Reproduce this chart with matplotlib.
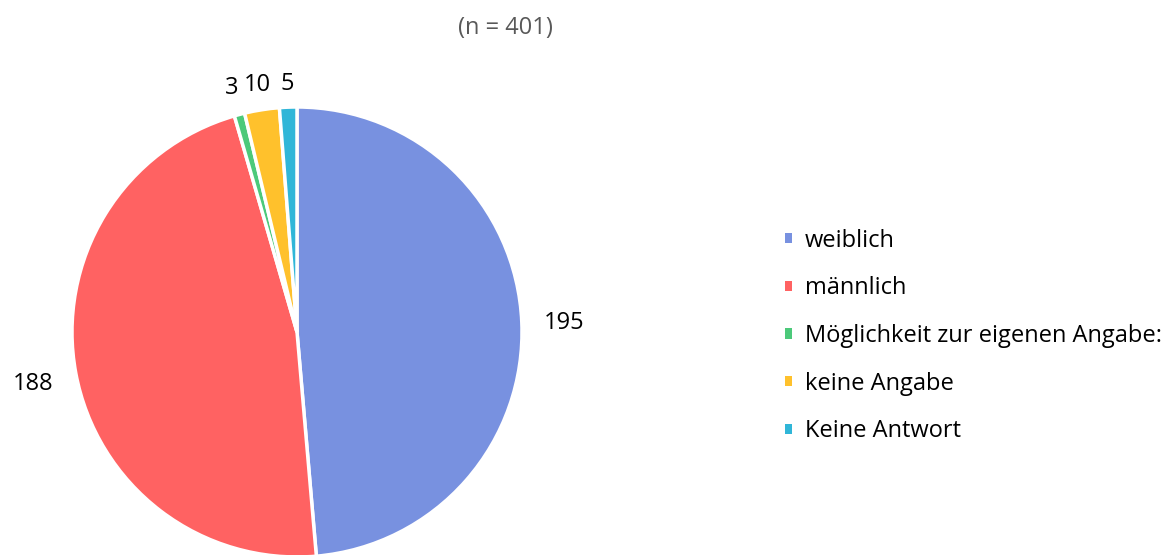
import matplotlib
matplotlib.use("Agg")
import matplotlib.pyplot as plt
import numpy as np
from matplotlib.patches import Patch

categories = ["weiblich", "männlich", "Möglichkeit zur eigenen Angabe:", "keine Angabe", "Keine Antwort"]
values = [195, 188, 3, 10, 5]
colors = ["#7891E0", "#FF6262", "#4CC97A", "#FFC12C", "#30B6D8"]
title = "(n = 401)"

plt.rcParams['font.family'] = ['Open Sans', 'DejaVu Sans']

W, H = 1176, 555
fig = plt.figure(figsize=(W / 100, H / 100), dpi=100)
cx, cy, r = 297, 332, 225
ax = fig.add_axes([(cx - r) / W, (H - cy - r) / H, 2 * r / W, 2 * r / H])
wedges, _ = ax.pie(values, colors=colors, startangle=90, counterclock=False,
                   wedgeprops=dict(edgecolor="white", linewidth=2.5))
ax.set_xlim(-1, 1)
ax.set_ylim(-1, 1)
ax.set_aspect("equal")
ax.axis("off")

dists = [1.19, 1.195, 1.136, 1.127, 1.117]
for w, v, d in zip(wedges, values, dists):
    ang = np.deg2rad((w.theta1 + w.theta2) / 2)
    ax.text(d * np.cos(ang), d * np.sin(ang), str(v), ha="center", va="center_baseline",
            fontsize=17, color="#000000", clip_on=False)

fig.text(505 / W, 1 - 25 / H, title, ha="center", va="center_baseline", fontsize=17, color="#595959")

handles = [Patch(facecolor=c, edgecolor="none") for c in colors]
fig.legend(handles, categories, loc="center left", bbox_to_anchor=(785 / W, 1 - 336 / H),
           frameon=False, fontsize=17, handlelength=0.3, handleheight=0.3,
           handletextpad=0.55, labelspacing=1.0, borderaxespad=0, borderpad=0)

fig.savefig("out.png", dpi=100)
